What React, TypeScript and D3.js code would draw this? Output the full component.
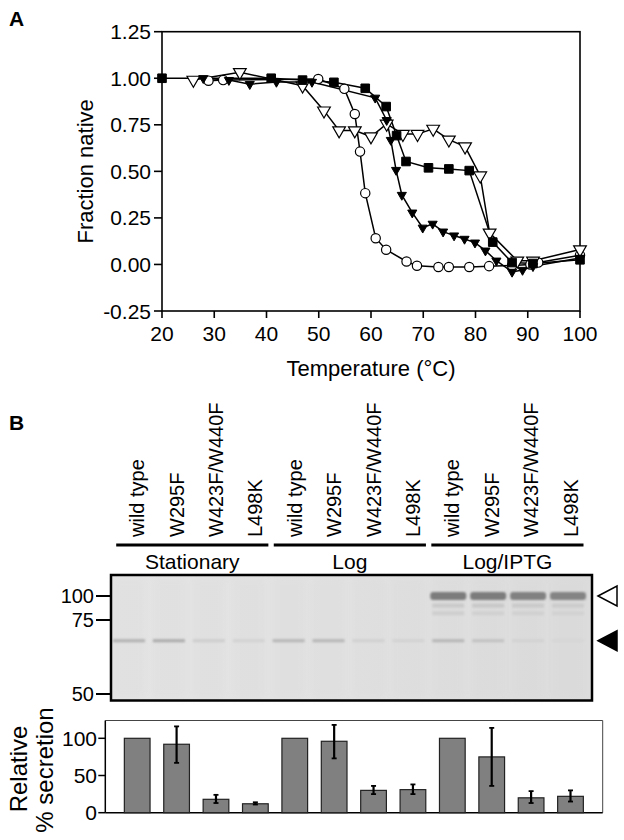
import React from 'react';
import * as d3 from 'd3';

// ---------- Panel A data ----------
const tempTicks = [20, 30, 40, 50, 60, 70, 80, 90, 100];
const fracTicks = [-0.25, 0, 0.25, 0.5, 0.75, 1.0, 1.25];

const squareT = [20, 40.9, 46.9, 52.9, 58.9, 62.9, 64.9, 66.7, 71.0, 74.9, 78.8, 83.3, 87, 91, 100];
const squareF = [1.0, 1.0, 0.99, 0.978, 0.946, 0.848, 0.692, 0.553, 0.519, 0.513, 0.504, 0.12, 0.01, 0.005, 0.025];

const circleT = [28.9, 31.7, 49.9, 54.9, 56.9, 57.9, 58.9, 60.9, 62.9, 66.8, 68.8, 72.9, 74.9, 78.8, 82.6, 87, 90.5, 92, 100];
const circleF = [0.987, 0.99, 0.996, 0.943, 0.808, 0.606, 0.383, 0.141, 0.079, 0.016, -0.007, -0.014, -0.014, -0.014, -0.009, -0.005, 0.0, 0.01, 0.05];

const filledTriT = [27.9, 32.8, 36.8, 41.9, 48.7, 60.8, 63.0, 63.8, 64.8, 65.9, 67.9, 69.9, 71.8, 73.8, 75.9, 77.9, 79.9, 81.9, 84, 87, 89, 91, 100];
const filledTriF = [1.0, 0.99, 0.968, 0.98, 0.98, 0.895, 0.775, 0.668, 0.507, 0.373, 0.278, 0.197, 0.218, 0.176, 0.155, 0.137, 0.117, 0.074, 0.02, -0.04, -0.03, -0.01, 0.035];

const openTriT = [26, 34.9, 46.9, 51, 53.9, 56.9, 60, 63, 66.1, 68.9, 71.9, 74.9, 78, 80.9, 82.7, 88, 91, 100];
const openTriF = [0.991, 1.032, 0.96, 0.826, 0.719, 0.719, 0.687, 0.755, 0.70, 0.70, 0.728, 0.67, 0.633, 0.477, 0.17, 0.02, 0.02, 0.08];

// ---------- Panel B data ----------
const laneLabels = ['wild type', 'W295F', 'W423F/W440F', 'L498K', 'wild type', 'W295F', 'W423F/W440F', 'L498K', 'wild type', 'W295F', 'W423F/W440F', 'L498K'];
const groupLabels = ['Stationary', 'Log', 'Log/IPTG'];
const kdaTicks = [100, 75, 50];
const band100 = [0, 0, 0, 0, 0, 0, 0, 0, 0.85, 0.85, 0.8, 0.78];
const band90 = [0, 0, 0, 0, 0, 0, 0, 0, 0.18, 0.2, 0.18, 0.16];
const band82 = [0, 0, 0, 0, 0, 0, 0, 0, 0.14, 0.12, 0.12, 0.1];
const band68 = [0.4, 0.45, 0.15, 0.1, 0.35, 0.35, 0.12, 0.1, 0.35, 0.25, 0.1, 0.08];
const secretion = [100, 92, 18, 12, 100, 96, 30, 31, 100, 75, 20, 22];
const errLow = [100, 67, 13, 11, 100, 73, 25, 25, 100, 36, 13, 15];
const errHigh = [100, 116, 24, 14, 100, 118, 36, 38, 100, 114, 29, 30];
const secTicks = [0, 50, 100];

const FONT = "'Liberation Sans', Arial, Helvetica, sans-serif";

export default function App() {
  // Panel A scales
  const x = d3.scaleLinear().domain([20, 100]).range([162, 580]);
  const y = d3.scaleLinear().domain([-0.25, 1.25]).range([311, 31.7]);
  const line = d3.line<[number, number]>().x(d => x(d[0])).y(d => y(d[1]));

  const zip = (a: number[], b: number[]) => a.map((v, i) => [v, b[i]] as [number, number]);
  const sq = zip(squareT, squareF);
  const ci = zip(circleT, circleF);
  const ft = zip(filledTriT, filledTriF);
  const ot = zip(openTriT, openTriF);

  const symSquare = d3.symbol().type(d3.symbolSquare).size(74)()!;
  const symCircle = d3.symbol().type(d3.symbolCircle).size(68)()!;
  const symTriOpen = d3.symbol().type(d3.symbolTriangle).size(70)()!;
  const symTriFilled = d3.symbol().type(d3.symbolTriangle).size(36)()!;

  // Panel B scales
  const idx = d3.range(laneLabels.length);
  const xb = d3.scalePoint<number>().domain(idx).range([137.2, 570.5]);
  const xg = d3.scalePoint<number>().domain(idx).range([129, 568]);
  const barW = 25.7;
  const kda = d3.scaleLinear().domain([100, 75, 50]).range([596, 620, 694]);
  const ys = d3.scaleLinear().domain([0, 100]).range([812.7, 738.3]);

  const gelL = 111, gelR = 592, gelT = 575, gelB = 700.5;
  const barL = 105.3, barR = 602.7, barT = 720.5;

  const bandColor = (v: number) => d3.interpolateRgb('#dedede', '#6a6a6a')(v);

  return (
    <svg width={624} height={840} style={{ position: 'absolute', left: 0, top: 0, background: '#fff' }} fontFamily={FONT}>
      <defs>
        <filter id="blur1" x="-20%" y="-200%" width="140%" height="500%">
          <feGaussianBlur stdDeviation="1.2 1.2" />
        </filter>
        <filter id="blur2" x="-20%" y="-20%" width="140%" height="140%">
          <feGaussianBlur stdDeviation="3" />
        </filter>
        <linearGradient id="gelbg" x1="0" x2="1" y1="0" y2="0">
          <stop offset="0" stopColor="#e5e5e5" />
          <stop offset="0.5" stopColor="#e2e2e2" />
          <stop offset="1" stopColor="#dcdcdc" />
        </linearGradient>
      </defs>

      {/* ---------------- Panel A ---------------- */}
      <text x={9} y={26} fontSize={21} fontWeight="bold">A</text>

      <rect x={x(20)} y={y(1.25)} width={x(100) - x(20)} height={y(-0.25) - y(1.25)} fill="none" stroke="#000" strokeWidth={1.6} />

      {fracTicks.map(t => (
        <g key={'yt' + t}>
          <line x1={x(20) - 8} x2={x(20)} y1={y(t)} y2={y(t)} stroke="#000" strokeWidth={1.6} />
          <text x={x(20) - 11} y={y(t)} dy="0.36em" textAnchor="end" fontSize={21}>{t.toFixed(2)}</text>
        </g>
      ))}
      {tempTicks.map(t => (
        <g key={'xt' + t}>
          <line x1={x(t)} x2={x(t)} y1={y(-0.25)} y2={y(-0.25) + 7} stroke="#000" strokeWidth={1.6} />
          <text x={x(t)} y={y(-0.25) + 30} textAnchor="middle" fontSize={21}>{t}</text>
        </g>
      ))}
      <text x={(x(20) + x(100)) / 2} y={376} textAnchor="middle" fontSize={22}>Temperature (°C)</text>
      <text transform={`translate(93,${(y(1.25) + y(-0.25)) / 2}) rotate(-90)`} textAnchor="middle" fontSize={22}>Fraction native</text>

      {[sq, ci, ft, ot].map((s, i) => (
        <path key={'ln' + i} d={line(s)!} fill="none" stroke="#000" strokeWidth={1.5} />
      ))}
      {ci.map((d, i) => (
        <path key={'c' + i} d={symCircle} transform={`translate(${x(d[0])},${y(d[1])})`} fill="#fff" stroke="#000" strokeWidth={1.2} />
      ))}
      {ot.map((d, i) => (
        <path key={'o' + i} d={symTriOpen} transform={`translate(${x(d[0])},${y(d[1])}) rotate(180)`} fill="#fff" stroke="#000" strokeWidth={1.2} />
      ))}
      {ft.map((d, i) => (
        <path key={'f' + i} d={symTriFilled} transform={`translate(${x(d[0])},${y(d[1])}) rotate(180)`} fill="#000" stroke="#000" strokeWidth={1} />
      ))}
      {sq.map((d, i) => (
        <path key={'s' + i} d={symSquare} transform={`translate(${x(d[0])},${y(d[1])})`} fill="#000" stroke="#000" strokeWidth={1} />
      ))}

      {/* ---------------- Panel B ---------------- */}
      <text x={9} y={430} fontSize={21} fontWeight="bold">B</text>

      {idx.map(i => (
        <text key={'ll' + i} transform={`translate(${xb(i)! + 7},537) rotate(-90)`} fontSize={20}>{laneLabels[i]}</text>
      ))}
      {groupLabels.map((g, gi) => {
        const a = xb(gi * 4)! - 21;
        const b = xb(gi * 4 + 3)! + 13;
        return (
          <g key={'g' + gi}>
            <line x1={a} x2={b} y1={545} y2={545} stroke="#000" strokeWidth={3} />
            <text x={(a + b) / 2} y={569} textAnchor="middle" fontSize={21}>{g}</text>
          </g>
        );
      })}

      {/* gel */}
      <rect x={gelL} y={gelT} width={gelR - gelL} height={gelB - gelT} fill="url(#gelbg)" />
      {idx.map(i => (
        <rect key={'lane' + i} x={xg(i)! - 17} y={gelT + 2} width={34} height={gelB - gelT - 4} fill="#d2d2d2" opacity={0.18} filter="url(#blur2)" />
      ))}
      {idx.map(i => band68[i] > 0 && (
        <rect key={'b68' + i} x={xg(i)! - 16} y={kda(68) - 1.5} width={32} height={3} fill={bandColor(band68[i])} filter="url(#blur1)" />
      ))}
      {idx.map(i => band82[i] > 0 && (
        <rect key={'b82' + i} x={xg(i)! - 16} y={kda(82) - 2} width={32} height={4} fill={bandColor(band82[i])} filter="url(#blur1)" />
      ))}
      {idx.map(i => band90[i] > 0 && (
        <rect key={'b90' + i} x={xg(i)! - 16} y={kda(90) - 2} width={32} height={4} fill={bandColor(band90[i])} filter="url(#blur1)" />
      ))}
      {idx.map(i => band100[i] > 0 && (
        <rect key={'b100' + i} x={xg(i)! - 18} y={kda(100) - 4} width={36} height={8} rx={3} fill={bandColor(band100[i])} filter="url(#blur1)" />
      ))}
      <rect x={gelL} y={gelT} width={gelR - gelL} height={gelB - gelT} fill="none" stroke="#000" strokeWidth={2.5} />
      {kdaTicks.map(k => (
        <g key={'k' + k}>
          <line x1={96} x2={gelL} y1={kda(k)} y2={kda(k)} stroke="#000" strokeWidth={2} />
          <text x={94} y={kda(k)} dy="0.36em" textAnchor="end" fontSize={20}>{k}</text>
        </g>
      ))}
      <path d={`M${gelR + 6},${kda(100)} L${gelR + 25},${kda(100) - 10} L${gelR + 25},${kda(100) + 10} Z`} fill="#fff" stroke="#000" strokeWidth={1.5} />
      <path d={`M${gelR + 6},${kda(68)} L${gelR + 25},${kda(68) - 10} L${gelR + 25},${kda(68) + 10} Z`} fill="#000" stroke="#000" strokeWidth={1.5} />

      {/* bar chart */}
      <path d={`M${barL},${barT} H${barR} V${ys(0)}`} fill="none" stroke="#444" strokeWidth={1} />
      <line x1={barL} x2={barR} y1={ys(0)} y2={ys(0)} stroke="#000" strokeWidth={1.5} />
      <line x1={barL} x2={barL} y1={barT} y2={ys(0)} stroke="#000" strokeWidth={1.5} />
      {secTicks.map(t => (
        <g key={'st' + t}>
          <line x1={barL - 7} x2={barL} y1={ys(t)} y2={ys(t)} stroke="#000" strokeWidth={1.5} />
          <text x={97} y={ys(t)} dy="0.36em" textAnchor="end" fontSize={21}>{t}</text>
        </g>
      ))}
      {idx.map(i => (
        <rect key={'bar' + i} x={xb(i)! - barW / 2} y={ys(secretion[i])} width={barW} height={ys(0) - ys(secretion[i])} fill="#808080" stroke="#222" strokeWidth={1.2} />
      ))}
      {idx.map(i => errHigh[i] - errLow[i] > 0.5 && (
        <g key={'err' + i}>
          <line x1={xb(i)} x2={xb(i)} y1={ys(errLow[i])} y2={ys(errHigh[i])} stroke="#000" strokeWidth={2.2} />
          <line x1={xb(i)! - 2.5} x2={xb(i)! + 2.5} y1={ys(errLow[i])} y2={ys(errLow[i])} stroke="#000" strokeWidth={1.8} />
          <line x1={xb(i)! - 2.5} x2={xb(i)! + 2.5} y1={ys(errHigh[i])} y2={ys(errHigh[i])} stroke="#000" strokeWidth={1.8} />
        </g>
      ))}
      <text transform={`translate(27,769) rotate(-90)`} textAnchor="middle" fontSize={24}>Relative</text>
      <text transform={`translate(53,770) rotate(-90)`} textAnchor="middle" fontSize={24}>% secretion</text>
    </svg>
  );
}
